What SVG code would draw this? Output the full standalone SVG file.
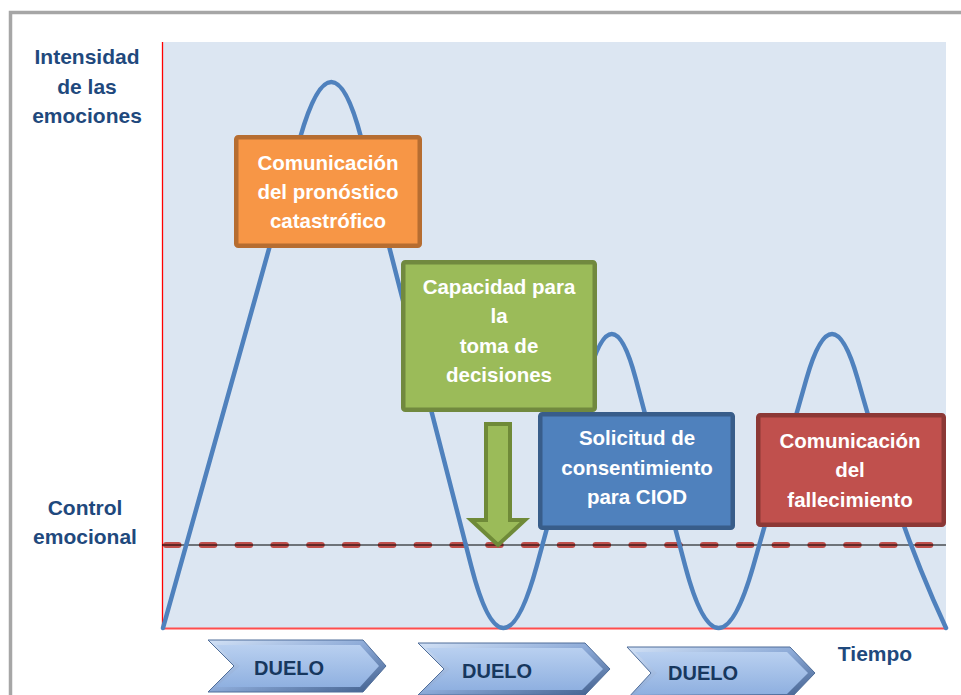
<svg xmlns="http://www.w3.org/2000/svg" width="961" height="695" viewBox="0 0 961 695">
  <style>
    .lbl { font-family: "Liberation Sans", Arial, sans-serif; font-weight: bold; font-size: 21px; fill: #1f497d; text-anchor: middle; }
    .btxt { font-family: "Liberation Sans", Arial, sans-serif; font-weight: bold; font-size: 20.5px; fill: #ffffff; text-anchor: middle; }
    .dtxt { font-family: "Liberation Sans", Arial, sans-serif; font-weight: bold; font-size: 20px; fill: #17375e; text-anchor: middle; }
    .box { stroke-width: 4.5; }
    .chev-out { fill: url(#bevel); stroke: #4f6d99; stroke-width: 1; }
    .chev-in { fill: url(#face); }
  </style>
  <defs>
    <linearGradient id="bevel" x1="0" y1="0" x2="1" y2="1">
      <stop offset="0" stop-color="#d3e2f6"/>
      <stop offset="0.5" stop-color="#8aa8d6"/>
      <stop offset="1" stop-color="#3e5c8a"/>
    </linearGradient>
    <linearGradient id="face" x1="0" y1="0" x2="0" y2="1">
      <stop offset="0" stop-color="#b9d0f0"/>
      <stop offset="1" stop-color="#8fb0e0"/>
    </linearGradient>
  </defs>

  <rect x="0" y="0" width="961" height="695" fill="#ffffff"/>
  <!-- outer frame -->
  <path d="M10.5,700 V12.5 H965" fill="none" stroke="#a6a6a6" stroke-width="3.5"/>

  <!-- chart area -->
  <g id="chart">
    <rect x="162" y="42" width="784" height="586" fill="#dce6f2"/>
    <line x1="162.5" y1="42" x2="162.5" y2="628" stroke="#ff0000" stroke-width="1.3"/>
    <line x1="162" y1="628.5" x2="946" y2="628.5" stroke="#ff4d4d" stroke-width="2"/>
    <path d="M166,545 H931" fill="none" stroke="#c0504d" stroke-width="6" stroke-linecap="round" stroke-dasharray="12.5 23.3"/>
    <line x1="162" y1="545" x2="946" y2="545" stroke="#000000" stroke-width="1.2"/>
    <path id="wave" d="M163,628 L300,138 Q332,26 361.2,138 L471.2,566 Q503,690 536.7,566 L587.5,379 Q612,289 635.8,379 L685.2,566 Q718,690 753.3,566 L806.4,379 Q832,289 857.7,379 C880,458 905,540 946,628" fill="none" stroke="#4f81bd" stroke-width="4.5" stroke-linejoin="round" stroke-linecap="round"/>
  </g>

  <!-- axis labels -->
  <g id="label-intensidad">
    <text class="lbl" x="87" y="64">Intensidad</text>
    <text class="lbl" x="87" y="94">de las</text>
    <text class="lbl" x="87" y="123">emociones</text>
  </g>
  <g id="label-control">
    <text class="lbl" x="85" y="515">Control</text>
    <text class="lbl" x="85" y="544">emocional</text>
  </g>
  <g id="label-tiempo">
    <text class="lbl" x="875" y="661">Tiempo</text>
  </g>

  <!-- nodes -->
  <g id="box-pronostico">
    <rect class="box" x="236.25" y="137.25" width="183.5" height="108.5" rx="2" fill="#f79646" stroke="#b66d31"/>
    <text class="btxt" x="328" y="170">Comunicación</text>
    <text class="btxt" x="328" y="199">del pronóstico</text>
    <text class="btxt" x="328" y="228">catastrófico</text>
  </g>
  <g id="box-decisiones">
    <rect class="box" x="403.25" y="262.25" width="191.5" height="147.5" rx="2" fill="#9bbb59" stroke="#71893f"/>
    <text class="btxt" x="499" y="294">Capacidad para</text>
    <text class="btxt" x="499" y="323">la</text>
    <text class="btxt" x="499" y="353">toma de</text>
    <text class="btxt" x="499" y="382">decisiones</text>
  </g>
  <g id="box-solicitud">
    <rect class="box" x="540.25" y="414.25" width="192.5" height="113.5" rx="2" fill="#4f81bd" stroke="#385d8a"/>
    <text class="btxt" x="637" y="445">Solicitud de</text>
    <text class="btxt" x="637" y="475">consentimiento</text>
    <text class="btxt" x="637" y="504">para CIOD</text>
  </g>
  <g id="box-fallecimiento">
    <rect class="box" x="758.25" y="415.25" width="185.5" height="109.5" rx="2" fill="#c0504d" stroke="#8c3836"/>
    <text class="btxt" x="850" y="448">Comunicación</text>
    <text class="btxt" x="850" y="477">del</text>
    <text class="btxt" x="850" y="507">fallecimiento</text>
  </g>

  <!-- connectors -->
  <g id="connectors">
    <path id="arrow-down" d="M486,424 H510 V520 H525 L498,545 L471,520 H486 Z" fill="#9bbb59" stroke="#6f8a38" stroke-width="4" stroke-linejoin="miter"/>
  </g>

  <!-- DUELO chevrons -->
  <g id="duelo-1">
    <path class="chev-out" d="M208,640 H363 L386,666 L363,692 H208 L234,666 Z"/>
    <path class="chev-in" d="M216,645 H360 L379,666 L360,687 H216 L240,666 Z"/>
    <text class="dtxt" x="289" y="675">DUELO</text>
  </g>
  <g id="duelo-2">
    <path class="chev-out" d="M418,643 H585 L610,669 L585,695 H418 L444,669 Z"/>
    <path class="chev-in" d="M426,648 H582 L603,669 L582,690 H426 L450,669 Z"/>
    <text class="dtxt" x="497" y="678">DUELO</text>
  </g>
  <g id="duelo-3">
    <path class="chev-out" d="M627,647 H790 L815,673 L790,699 H627 L651,673 Z"/>
    <path class="chev-in" d="M635,652 H787 L808,673 L787,694 H635 L657,673 Z"/>
    <text class="dtxt" x="703" y="680">DUELO</text>
  </g>
</svg>
